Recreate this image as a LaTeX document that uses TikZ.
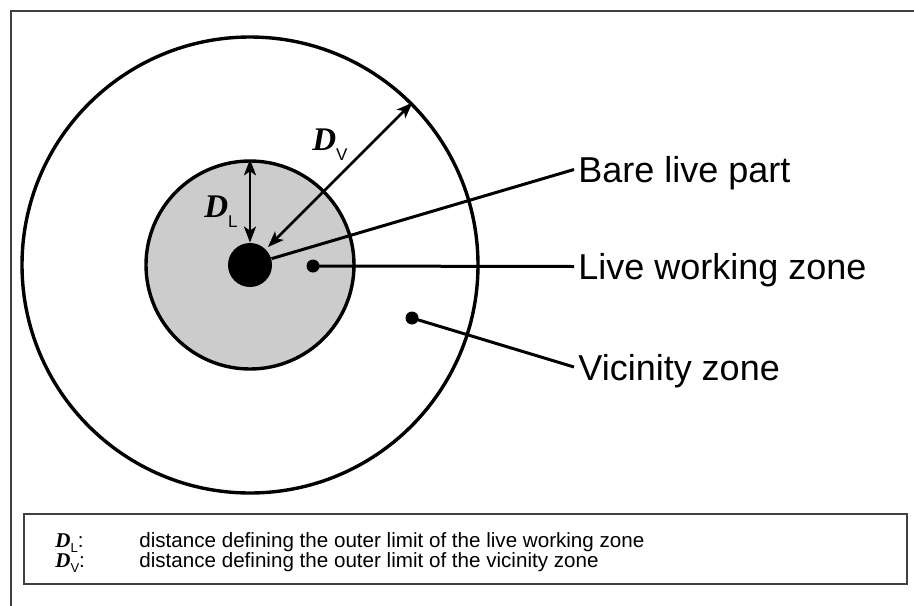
\documentclass[tikz,border=0pt]{standalone}
\usepackage{fontspec}
\setmainfont{Liberation Sans}
\newfontfamily\tnr{Liberation Serif}
\usetikzlibrary{arrows.meta}
\definecolor{zonegray}{HTML}{CCCCCC}
\definecolor{framegray}{HTML}{404040}
\tikzset{
  ring/.style={circle, draw=black, line width=1.7pt, inner sep=0pt},
  lead/.style={line width=1.5pt},
  smalldot/.style={circle, fill=black, inner sep=0pt, minimum size=6.5pt},
  zonelabel/.style={anchor=west, inner sep=2pt, text depth=0pt, font=\fontsize{18}{20}\selectfont},
  dim/.style={line width=1.4pt, {Stealth[length=8pt,width=6pt,inset=2pt]}-{Stealth[length=8pt,width=6pt,inset=2pt]}},
  dimlabel/.style={anchor=base west, inner sep=0pt},
  legtext/.style={anchor=base west, inner sep=0pt, font=\fontsize{10.3}{12}\selectfont},
}
\newcommand{\bigD}[1]{{\tnr\bfseries\itshape\fontsize{16.5}{18}\selectfont D}\raisebox{-5pt}{\fontsize{8.5}{10}\selectfont #1}}
\newcommand{\smallD}[1]{{\tnr\bfseries\itshape\fontsize{10.5}{12}\selectfont D}\raisebox{-2.5pt}{\fontsize{6.5}{7}\selectfont #1}:}
\begin{document}
\begin{tikzpicture}[x=0.5pt,y=-0.5pt]
\useasboundingbox (0,0) rectangle (914,605);
% outer frame (open to right and bottom)
\draw[framegray, line width=1pt] (11,610) -- (11,11) -- (920,11);
% zones
\node[ring, minimum size=228pt] (outer) at (250,265) {};
\node[ring, fill=zonegray, minimum size=104pt] (inner) at (250,265) {};
\node[circle, fill=black, inner sep=0pt, minimum size=22pt] (live) at (250,265) {};
% dimension arrows
\draw[dim] (inner.north) -- (live.north);
\draw[dim] ([shift={(45:1.5pt)}]live.45) -- (outer.45);
\node[dimlabel] (dl) at (204,217) {\bigD{L}};
\node[dimlabel] (dv) at (312,150) {\bigD{V}};
% labels
\node[zonelabel] (bare) at (574,169.5) {Bare live part};
\node[zonelabel] (lwz) at (574,266.5) {Live working zone};
\node[zonelabel] (vz) at (574,367) {Vicinity zone};
\node[smalldot] (d1) at (313,266) {};
\node[smalldot] (d2) at (412,318) {};
\draw[lead] (live) -- (bare.west);
\draw[lead] (d1.center) -- (lwz.west);
\draw[lead] (d2.center) -- (vz.west);
% legend
\node[draw=framegray, line width=1pt, minimum width=441.5pt, minimum height=35pt, inner sep=0pt, anchor=north west] (legend) at (23,513) {};
\node[legtext] (k1) at (55,547) {\smallD{L}};
\node[legtext] (k2) at (55,567) {\smallD{V}};
\node[legtext] (t1) at (139,547) {distance defining the outer limit of the live working zone};
\node[legtext] (t2) at (139,567) {distance defining the outer limit of the vicinity zone};
\end{tikzpicture}
\end{document}
